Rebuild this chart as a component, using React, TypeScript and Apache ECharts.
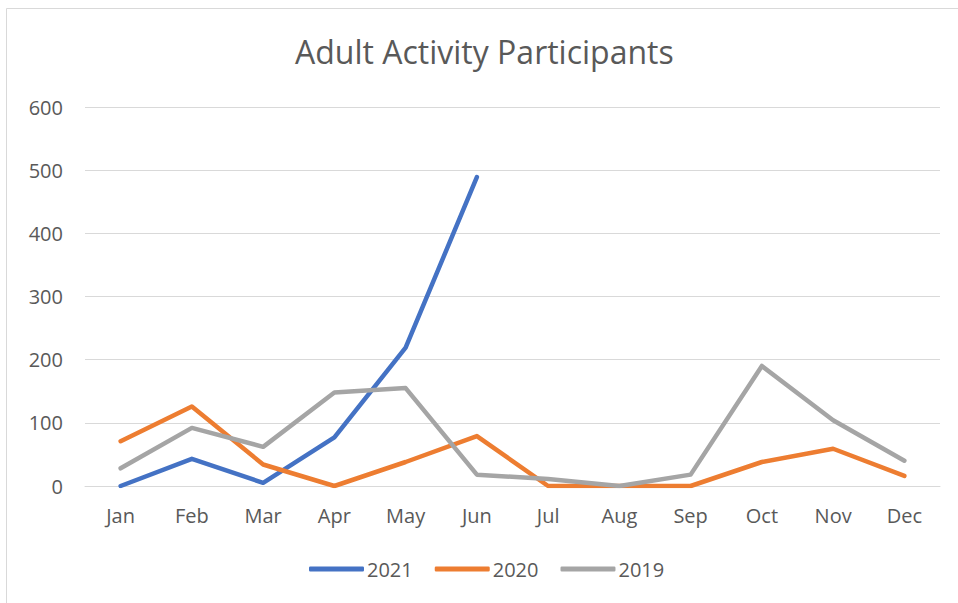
import React, { useEffect, useRef } from "react";
import * as echarts from "echarts";

const months = ["Jan", "Feb", "Mar", "Apr", "May", "Jun", "Jul", "Aug", "Sep", "Oct", "Nov", "Dec"];
const s2021 = [0, 43, 5, 77, 219, 489, null, null, null, null, null, null];
const s2020 = [71, 126, 34, 0, 38, 79, 0, 0, 0, 38, 59, 16];
const s2019 = [28, 92, 62, 148, 155, 18, 11, 0, 18, 190, 104, 40];
const yTicks = { min: 0, max: 600, interval: 100 };

const FONT = "'Open Sans', sans-serif";
const TXT = "#595959";

export default function App() {
  const ref = useRef<HTMLDivElement>(null);
  useEffect(() => {
    document.body.style.margin = "0";
    const chart = echarts.init(ref.current!, null, { renderer: "svg" });
    const mk = (name: string, data: (number | null)[], color: string) => ({
      name,
      type: "line",
      data,
      symbol: "none",
      showSymbol: false,
      connectNulls: false,
      lineStyle: { width: 4.5, color, cap: "round", join: "round" },
      itemStyle: { color },
    });
    chart.setOption({
      animation: false,
      backgroundColor: "#ffffff",
      textStyle: { fontFamily: FONT },
      title: {
        text: "Adult Activity Participants",
        left: 290,
        top: 30,
        textStyle: { fontFamily: FONT, fontSize: 32, fontWeight: "normal", color: TXT },
      },
      graphic: [
        {
          type: "rect",
          shape: { x: 6.5, y: 8.5, width: 1000, height: 700 },
          style: { fill: "none", stroke: "#d9d9d9", lineWidth: 1 },
          silent: true,
        },
      ],
      legend: {
        top: 554,
        left: 304,
        icon: "roundRect",
        itemWidth: 55,
        itemHeight: 5,
        itemGap: 22,
        textStyle: { fontFamily: FONT, fontSize: 20, color: TXT, padding: [0, 0, 0, -2] },
        data: ["2021", "2020", "2019"],
      },
      grid: { left: 85, right: 18, top: 107, bottom: 117, containLabel: false },
      xAxis: {
        type: "category",
        data: months,
        boundaryGap: true,
        axisLine: { show: true, lineStyle: { color: "#d9d9d9", width: 1 } },
        axisTick: { show: false },
        axisLabel: { color: TXT, fontSize: 20, fontFamily: FONT, margin: 19 },
      },
      yAxis: {
        type: "value",
        min: yTicks.min,
        max: yTicks.max,
        interval: yTicks.interval,
        axisLine: { show: false },
        axisTick: { show: false },
        splitLine: { lineStyle: { color: "#d9d9d9", width: 1 } },
        axisLabel: { color: TXT, fontSize: 20, fontFamily: FONT, margin: 22 },
      },
      series: [mk("2021", s2021, "#4472C4"), mk("2020", s2020, "#ED7D31"), mk("2019", s2019, "#A5A5A5")],
    });
    return () => chart.dispose();
  }, []);
  return <div ref={ref} style={{ width: 958, height: 603 }} />;
}
